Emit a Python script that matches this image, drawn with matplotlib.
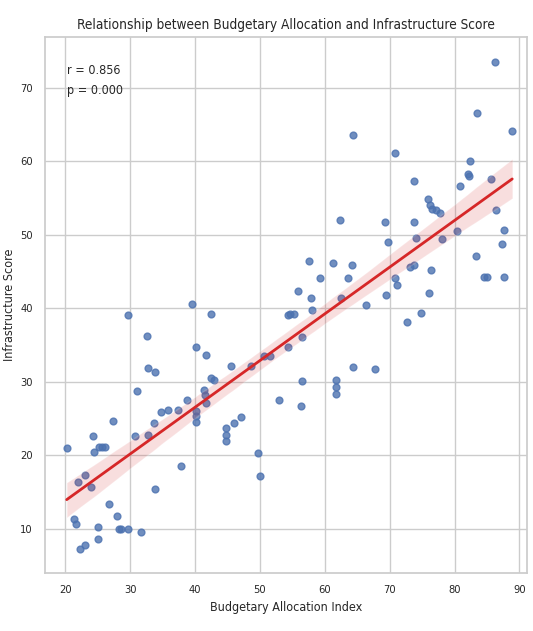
import numpy as np
import matplotlib
matplotlib.use("Agg")
import matplotlib.pyplot as plt
import seaborn as sns

budget = [20.2, 21.3, 21.6, 22.2, 23.0, 22.0, 23.0, 24.0, 24.2, 24.4, 25.2, 25.7, 26.1,
          25.1, 25.1, 26.7, 27.4, 28.0, 28.2, 28.5, 29.7, 29.7, 31.7, 30.8, 31.1, 32.6,
          32.7, 33.8, 32.8, 33.6, 33.8, 34.7, 35.8, 37.3, 37.9, 38.8, 39.5, 40.1, 40.2,
          40.2, 40.2, 41.7, 41.3, 41.5, 41.7, 42.5, 42.5, 42.9, 44.8, 44.8, 44.8, 45.5,
          46.0, 47.0, 48.6, 49.7, 50.0, 50.6, 51.6, 52.9, 54.3, 54.3,
          86.3, 83.4, 88.9, 64.4, 70.8, 82.4, 82.1, 82.3, 85.6, 73.8, 80.9, 75.9, 76.2,
          76.5, 77.1, 77.8, 86.4, 62.4, 69.3, 73.7, 87.6, 80.4, 69.7, 74.1, 78.1, 87.4,
          57.5, 61.3, 64.2, 59.2, 63.5, 55.8, 57.8, 62.5, 58.1, 54.6, 55.3, 66.3, 69.4,
          70.8, 71.1, 73.1, 73.7, 76.4, 76.1, 72.6, 74.8, 83.3, 84.5, 85.0, 87.6,
          56.5, 64.4, 67.7, 56.5, 56.3, 61.7, 61.7, 61.7]
infra = [21.0, 11.3, 10.7, 7.2, 7.8, 16.4, 17.3, 15.7, 22.6, 20.5, 21.2, 21.2, 21.2,
         10.3, 8.6, 13.4, 24.7, 11.8, 10.0, 10.0, 10.0, 39.1, 9.6, 22.6, 28.8, 36.3,
         31.9, 31.3, 22.8, 24.4, 15.4, 25.9, 26.2, 26.2, 18.6, 27.6, 40.6, 34.8, 26.0,
         25.3, 24.6, 33.7, 28.9, 28.2, 27.1, 39.3, 30.5, 30.3, 23.7, 22.8, 21.9, 32.1,
         24.4, 25.2, 32.1, 20.3, 17.2, 33.5, 33.5, 27.6, 34.8, 39.1,
         73.5, 66.6, 64.1, 63.6, 61.2, 60.1, 58.3, 58.0, 57.6, 57.3, 56.7, 54.9, 54.1,
         53.5, 53.4, 53.0, 53.4, 52.0, 51.7, 51.7, 50.6, 50.5, 49.1, 49.6, 49.4, 48.8,
         46.5, 46.2, 45.9, 44.2, 44.1, 42.3, 41.4, 41.4, 39.8, 39.3, 39.3, 40.5, 41.8,
         44.1, 43.2, 45.7, 45.9, 45.2, 42.1, 38.1, 39.4, 47.1, 44.3, 44.3, 44.3,
         36.1, 32.0, 31.7, 30.1, 26.7, 30.3, 29.3, 28.4]
stats_text = "r = 0.856\np = 0.000"

sns.set_theme(style="whitegrid")
plt.rcParams['font.family'] = ['DejaVu Sans']
plt.rcParams['font.stretch'] = 'condensed'

fig, ax = plt.subplots(figsize=(5.33, 6.31), dpi=100)
sns.regplot(x=np.array(budget), y=np.array(infra), ax=ax,
            scatter_kws={'alpha': 0.8, 's': 24, 'color': '#4c72b0'},
            line_kws={'color': '#d62728', 'linewidth': 2})

ax.set_xlim(16.9, 91.2)
ax.set_ylim(4.0, 76.9)
ax.set_xticks([20, 30, 40, 50, 60, 70, 80, 90])
ax.set_yticks([10, 20, 30, 40, 50, 60, 70])
ax.tick_params(labelsize=8, pad=3)
ax.set_title("Relationship between Budgetary Allocation and Infrastructure Score", fontsize=9.8)
ax.set_xlabel("Budgetary Allocation Index", fontsize=9)
ax.set_ylabel("Infrastructure Score", fontsize=9, labelpad=3)
ax.text(0.045, 0.95, stats_text, transform=ax.transAxes, fontsize=9, va='top',
        linespacing=1.7)

fig.subplots_adjust(left=0.085, right=0.989, top=0.941, bottom=0.092)
fig.savefig("out.png")
